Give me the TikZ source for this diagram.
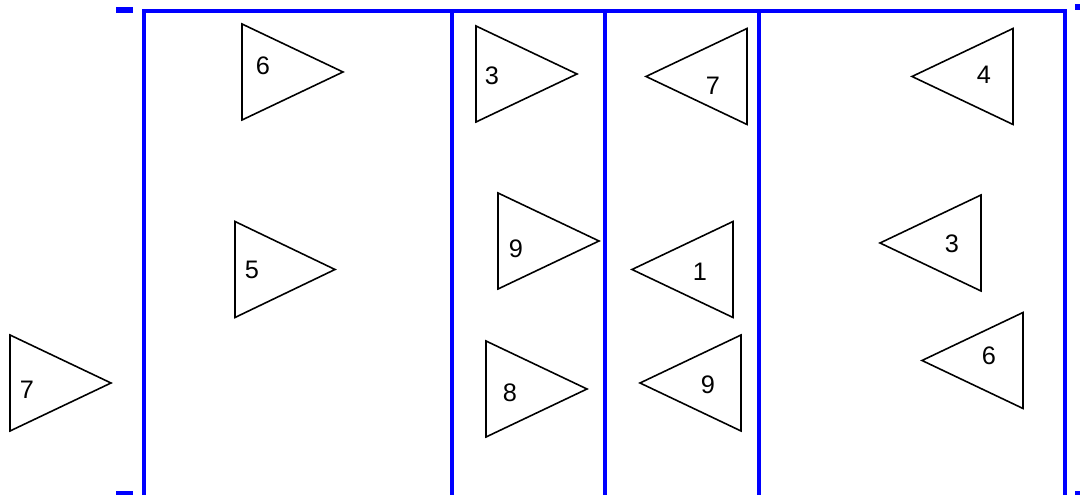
\documentclass[tikz,border=0pt]{standalone}
\usepackage{fontspec}
\setmainfont{Liberation Sans}
\usetikzlibrary{positioning}

\begin{document}
\begin{tikzpicture}[x=0.01cm, y=-0.01cm,
  lane/.style={draw=blue, line width=1.1pt},
  barcap/.style={draw=blue, line width=1.6pt},
  flag/.style={draw=black, line width=0.45pt, line join=miter},
  num/.style={font=\fontsize{7.2}{8}\selectfont, inner sep=0pt}
]
\useasboundingbox (0,0) rectangle (1080,495);
\clip (0,0) rectangle (1080,495);

% lanes
\draw[lane] (144,520) |- (1065,11) -- (1065,520);
\foreach \lx in {452,605,759} \draw[lane] (\lx,11) -- (\lx,520);

% caps at the corners
\draw[barcap] (116,10) -- (133,10);
\draw[barcap] (116,494) -- (133,494);
\draw[barcap] (1075,7) -- (1085,7);
\draw[barcap] (1075,494) -- (1085,494);

% flags: back edge x / centre y / apex x
\foreach \bx/\cy/\ax in {242/72/343, 235/269.5/335, 10/383/111,
    476/74/577, 498/241/599, 486/389/587,
    747/76.5/646, 733/269.5/632, 741/383/640,
    1013/76.5/912, 981/243/880, 1023/360.5/922}
  \draw[flag] (\bx,\cy-48) -- (\ax,\cy) -- (\bx,\cy+48) -- cycle;

\node[num] (f6a) at (263,66) {6};
\node[num] (f5) at (252,270) {5};
\node[num] (f7a) at (27,390) {7};
\node[num] (f3a) at (492,76) {3};
\node[num] (f9a) at (516,249) {9};
\node[num] (f8) at (510,393) {8};
\node[num] (f7b) at (713,86) {7};
\node[num] (f1) at (700,272) {1};
\node[num] (f9b) at (708,385) {9};
\node[num] (f4) at (984,75) {4};
\node[num] (f3b) at (952,244) {3};
\node[num] (f6b) at (989,356) {6};

\end{tikzpicture}
\end{document}
